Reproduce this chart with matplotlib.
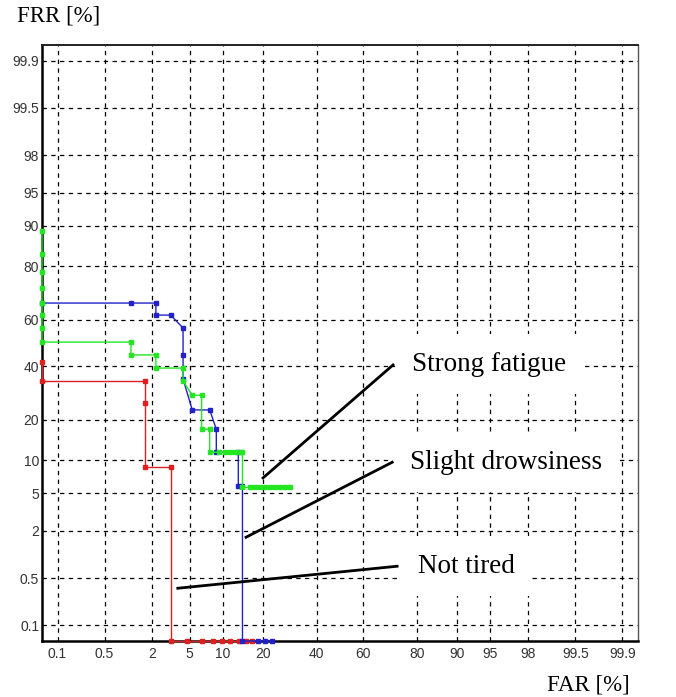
import matplotlib
matplotlib.use("Agg")
import matplotlib.pyplot as plt
from statistics import NormalDist

# DET plot: FAR vs FRR on normal-deviate (probit) axes
ND = NormalDist()
EDGE = 0.0557  # value (%) at the plot border, ~ probit +-3.26

tick_vals = [0.1, 0.5, 2, 5, 10, 20, 40, 60, 80, 90, 95, 98, 99.5, 99.9]
tick_labels = ['0.1', '0.5', '2', '5', '10', '20', '40', '60', '80', '90',
               '95', '98', '99.5', '99.9']

# not tired (red)
red_far = [EDGE, EDGE, 1.65, 1.65, 1.65, 3.2, 3.2, 4.75, 6.5, 8.3, 9.9,
           11.5, 13.4, 15.1, 16.7]
red_frr = [41.8, 33.9, 33.9, 25.6, 8.7, 8.7, EDGE, EDGE, EDGE, EDGE, EDGE,
           EDGE, EDGE, EDGE, EDGE]

# slight drowsiness (blue)
blue_far = [EDGE, 1.11, 2.2, 2.2, 3.2, 4.3, 4.3, 4.3, 5.3, 7.7, 8.8, 8.8,
            13.3, 13.3, 14.3, 14.3, 18.4, 20.5, 22.7]
blue_frr = [66.9, 66.9, 66.9, 62, 62, 56.5, 44.8, 34.7, 23.2, 23.2, 17.3,
            11.6, 11.6, 5.9, 5.9, EDGE, EDGE, EDGE, EDGE]

# strong fatigue (green)
green_far = [EDGE, EDGE, EDGE, EDGE, EDGE, EDGE, EDGE, EDGE, 1.11, 1.11,
             2.2, 2.2, 4.3, 4.3, 5.3, 6.5, 6.5, 7.7, 7.7, 9.3, 10.4, 11.4,
             12.5, 13.7, 14.3, 14.3, 16.2, 17.6, 19.0, 20.6, 22.2, 23.8,
             25.6, 27.3, 29.2]
green_frr = [89, 83.5, 78.2, 72.6, 66.9, 62, 56.5, 50.4, 50.4, 44.8, 44.8,
             39.2, 39.2, 33.9, 28.4, 28.4, 17.3, 17.3, 11.6, 11.6, 11.6,
             11.6, 11.6, 11.6, 11.6, 5.7, 5.7, 5.7, 5.7, 5.7, 5.7, 5.7, 5.7,
             5.7, 5.7]

# annotation texts and the point each leader line goes to (in %)
labels = ['Strong fatigue', 'Slight drowsiness', 'Not tired']
label_pos = [(78.5, 40.9), (77.8, 9.6), (80.3, 0.73)]
line_start = [(71.9, 40.5), (71.6, 9.6), (73.4, 0.73)]
line_end = [(20.0, 7.0), (15.2, 1.68), (3.8, 0.365)]


def probit(p):
    if isinstance(p, (list, tuple)):
        return [ND.inv_cdf(v / 100.0) for v in p]
    return ND.inv_cdf(p / 100.0)


fig = plt.figure(figsize=(6.76, 6.97), dpi=100)
ax = fig.add_axes([42 / 676, 1 - 641 / 697, 596 / 676, 596 / 697])

lim = probit(EDGE)
ax.set_xlim(lim, -lim)
ax.set_ylim(lim, -lim)

ticks = probit(tick_vals)
ax.set_xticks(ticks)
ax.set_xticklabels(tick_labels)
ax.set_yticks(ticks)
ax.set_yticklabels(tick_labels)
ax.tick_params(length=0, pad=4, labelsize=10, labelcolor='#333333')
for lab in ax.get_xticklabels() + ax.get_yticklabels():
    lab.set_family('Liberation Sans')
ax.tick_params(axis='y', pad=2)

ax.grid(True, color='black', linestyle=(0, (3.5, 3.5)), linewidth=0.9)
ax.set_axisbelow(True)

for s in ['left', 'bottom']:
    ax.spines[s].set_linewidth(1.8)
    ax.spines[s].set_color('black')
ax.spines['top'].set_linewidth(1.4)
ax.spines['top'].set_color('#222222')
ax.spines['right'].set_linewidth(1.0)
ax.spines['right'].set_color('#555555')

mk = dict(marker='s', markersize=3.5, linewidth=1.0, clip_on=False, zorder=3)
ax.plot(probit(red_far), probit(red_frr), color='#e02020',
        markerfacecolor='#e02020', markeredgecolor='#e02020', **mk)
ax.plot(probit(blue_far), probit(blue_frr), color='#2222c8',
        markerfacecolor='#2222c8', markeredgecolor='#2222c8', **mk)
ax.plot(probit(green_far), probit(green_frr), color='#22e622',
        markerfacecolor='#22e622', markeredgecolor='#22e622', **mk)

for txt, (tx, ty), (sx, sy), (ex, ey) in zip(labels, label_pos, line_start, line_end):
    ax.text(probit(tx), probit(ty), txt, family='Liberation Serif',
            fontsize=19.5, ha='left', va='center', zorder=4,
            bbox=dict(boxstyle='square,pad=0.65', facecolor='white',
                      edgecolor='none'))
    ax.plot([probit(sx), probit(ex)], [probit(sy), probit(ey)], color='black',
            linewidth=2.0, zorder=5)

fig.text(17 / 676, 1 - 16 / 697, 'FRR [%]', family='Liberation Serif',
         fontsize=16.5, ha='left', va='center')
fig.text(630 / 676, 1 - 685 / 697, 'FAR [%]', family='Liberation Serif',
         fontsize=16.5, ha='right', va='center')

fig.savefig('out.png', dpi=100)
